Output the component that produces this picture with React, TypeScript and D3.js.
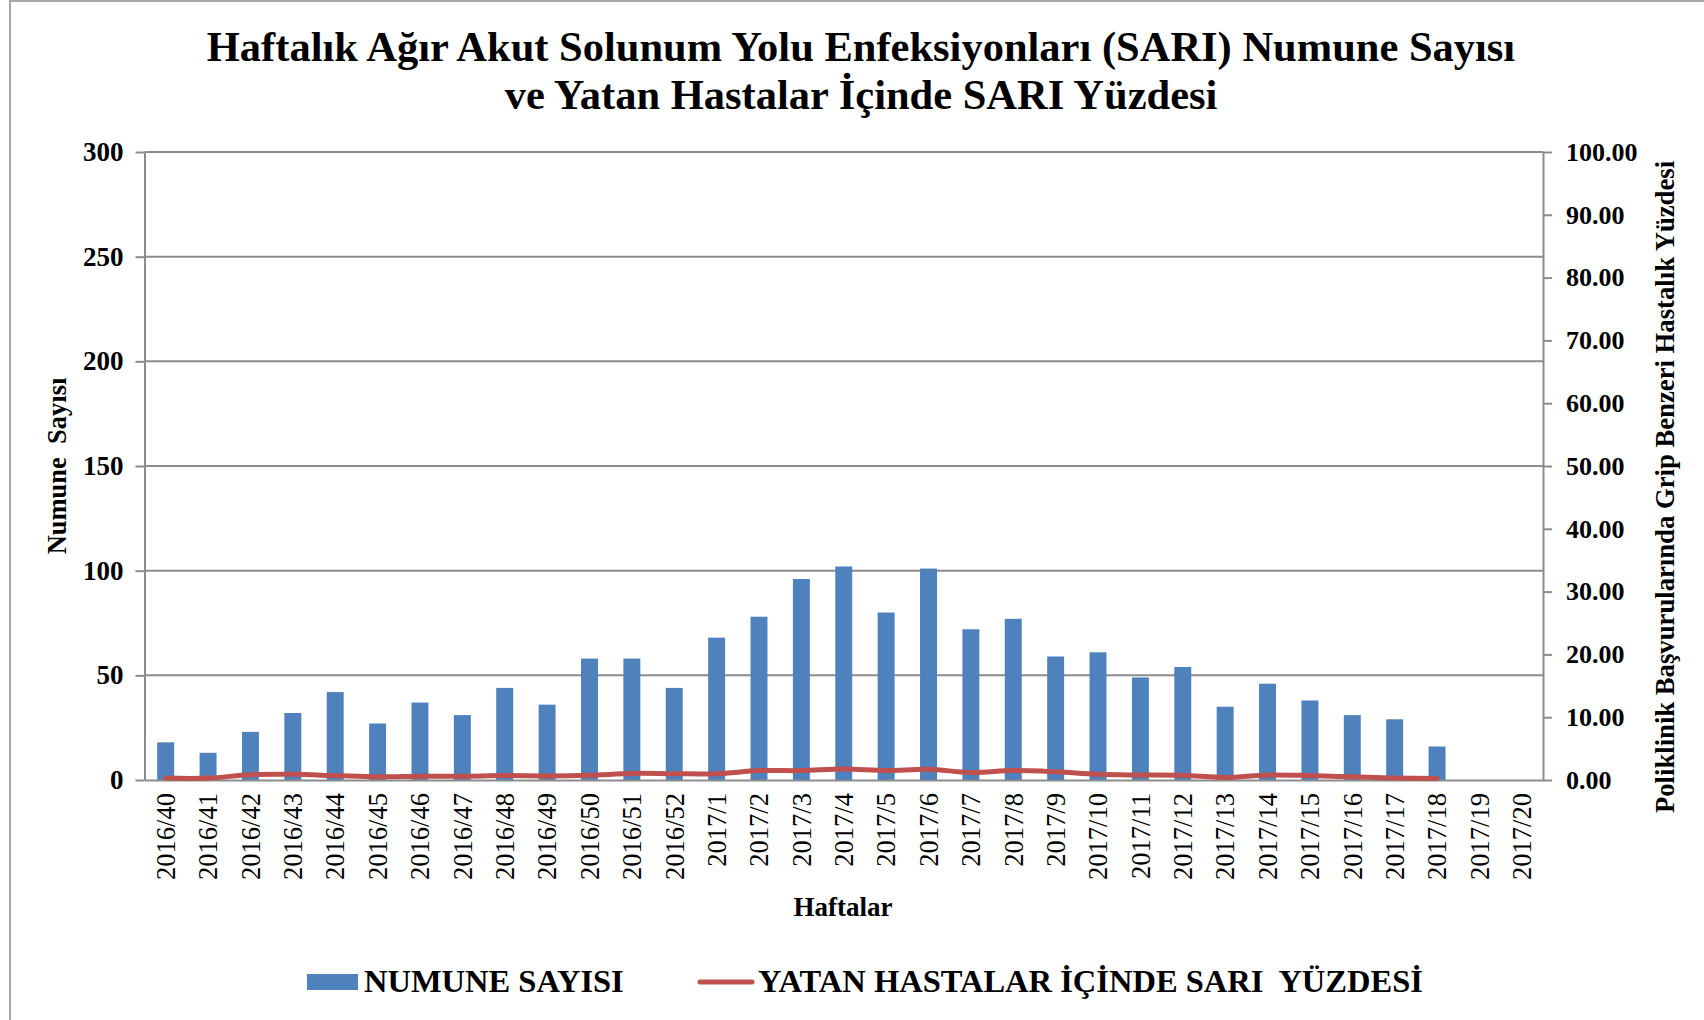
import React, { useEffect, useRef } from 'react';
import * as d3 from 'd3';

const weeks = [
  '2016/40', '2016/41', '2016/42', '2016/43', '2016/44', '2016/45', '2016/46',
  '2016/47', '2016/48', '2016/49', '2016/50', '2016/51', '2016/52',
  '2017/1', '2017/2', '2017/3', '2017/4', '2017/5', '2017/6', '2017/7',
  '2017/8', '2017/9', '2017/10', '2017/11', '2017/12', '2017/13', '2017/14',
  '2017/15', '2017/16', '2017/17', '2017/18', '2017/19', '2017/20',
];

// numune sayısı (bars), 2017/19 and 2017/20 have no data
const samples = [
  18, 13, 23, 32, 42, 27, 37, 31, 44, 36, 58, 58, 44,
  68, 78, 96, 102, 80, 101, 72, 77, 59, 61, 49, 54, 35, 46, 38, 31, 29, 16,
];

// yatan hastalar içinde SARI yüzdesi (line, right axis)
const sariPct = [
  0.3, 0.3, 0.85, 0.9, 0.7, 0.5, 0.6, 0.6, 0.7, 0.65, 0.75, 1.05, 1.0,
  1.0, 1.5, 1.5, 1.75, 1.5, 1.7, 1.2, 1.5, 1.3, 0.9, 0.8, 0.75, 0.4, 0.8, 0.7, 0.5, 0.3, 0.25,
];

const leftTicks = [0, 50, 100, 150, 200, 250, 300];
const rightTicks = [0, 10, 20, 30, 40, 50, 60, 70, 80, 90, 100];

const titleLines = [
  'Haftalık Ağır Akut Solunum Yolu Enfeksiyonları (SARI) Numune Sayısı',
  've Yatan Hastalar İçinde SARI Yüzdesi',
];

export default function App() {
  const ref = useRef<SVGSVGElement>(null);
  const width = 1704,
    height = 1020;
  const margin = { top: 152, right: 161, bottom: 240, left: 144.5 };
  const serif = '"Liberation Serif", "Times New Roman", serif';
  const barColor = '#4F81BD';
  const lineColor = '#C0504D';
  const axisColor = '#8C8C8C';

  useEffect(() => {
    const svg = d3.select(ref.current);
    svg.selectAll('*').remove();

    const x = d3
      .scaleBand<string>()
      .domain(weeks)
      .range([margin.left, width - margin.right])
      .padding(0);

    const y = d3
      .scaleLinear()
      .domain([0, 300])
      .range([height - margin.bottom, margin.top]);

    const y2 = d3
      .scaleLinear()
      .domain([0, 100])
      .range([height - margin.bottom, margin.top]);

    // outer frame
    svg
      .append('rect')
      .attr('x', 10)
      .attr('y', 1)
      .attr('width', width)
      .attr('height', height + 10)
      .attr('fill', 'white')
      .attr('stroke', '#A6A6A6')
      .attr('stroke-width', 2);

    // title
    svg
      .append('g')
      .selectAll('text')
      .data(titleLines)
      .join('text')
      .attr('x', 861)
      .attr('y', (d, i) => 61 + i * 48)
      .attr('text-anchor', 'middle')
      .attr('font-family', serif)
      .attr('font-weight', 'bold')
      .attr('font-size', 42.5)
      .text((d) => d);

    // gridlines
    svg
      .append('g')
      .selectAll('line')
      .data(leftTicks.slice(1))
      .join('line')
      .attr('x1', margin.left)
      .attr('x2', width - margin.right)
      .attr('y1', (d) => y(d))
      .attr('y2', (d) => y(d))
      .attr('stroke', axisColor)
      .attr('stroke-width', 2);

    // left axis
    const yAxis = svg
      .append('g')
      .attr('transform', `translate(${margin.left},0)`)
      .call(d3.axisLeft(y).tickValues(leftTicks).tickSize(9).tickPadding(12).tickSizeOuter(0));
    yAxis.select('.domain').attr('stroke', axisColor).attr('stroke-width', 2);
    yAxis.selectAll('.tick line').attr('stroke', axisColor).attr('stroke-width', 2);
    yAxis
      .selectAll('.tick text')
      .attr('font-family', serif)
      .attr('font-weight', 'bold')
      .attr('font-size', 27)
      .attr('fill', '#000');

    // right axis
    const yAxis2 = svg
      .append('g')
      .attr('transform', `translate(${width - margin.right},0)`)
      .call(
        d3
          .axisRight(y2)
          .tickValues(rightTicks)
          .tickFormat(d3.format('.2f'))
          .tickSize(9)
          .tickPadding(14)
          .tickSizeOuter(0)
      );
    yAxis2.select('.domain').attr('stroke', axisColor).attr('stroke-width', 2);
    yAxis2.selectAll('.tick line').attr('stroke', axisColor).attr('stroke-width', 2);
    yAxis2
      .selectAll('.tick text')
      .attr('font-family', serif)
      .attr('font-weight', 'bold')
      .attr('font-size', 26)
      .attr('fill', '#000');

    // bars
    const barW = x.bandwidth() * 0.4;
    svg
      .append('g')
      .selectAll('rect')
      .data(samples)
      .join('rect')
      .attr('x', (d, i) => (x(weeks[i]) as number) + (x.bandwidth() - barW) / 2)
      .attr('y', (d) => y(d))
      .attr('width', barW)
      .attr('height', (d) => y(0) - y(d))
      .attr('fill', barColor);

    // bottom axis
    const xAxis = svg
      .append('g')
      .attr('transform', `translate(0,${height - margin.bottom})`)
      .call(d3.axisBottom(x).tickSize(0).tickSizeOuter(0));
    xAxis.select('.domain').attr('stroke', axisColor).attr('stroke-width', 2);
    xAxis
      .selectAll('.tick text')
      .attr('font-family', serif)
      .attr('font-size', 26.5)
      .attr('fill', '#000')
      .attr('text-anchor', 'end')
      .attr('dy', '0.35em')
      .attr('x', -13)
      .attr('y', 0)
      .attr('transform', 'rotate(-90)');

    // percentage line
    const line = d3
      .line<number>()
      .x((d, i) => (x(weeks[i]) as number) + x.bandwidth() / 2)
      .y((d) => y2(d))
      .curve(d3.curveCatmullRom.alpha(0));
    svg
      .append('path')
      .datum(sariPct)
      .attr('fill', 'none')
      .attr('stroke', lineColor)
      .attr('stroke-width', 5)
      .attr('stroke-linecap', 'round')
      .attr('d', line);

    // axis titles
    svg
      .append('text')
      .attr('transform', `translate(66,${(margin.top + height - margin.bottom) / 2}) rotate(-90)`)
      .attr('text-anchor', 'middle')
      .attr('font-family', serif)
      .attr('font-weight', 'bold')
      .attr('font-size', 26.5)
      .style('white-space', 'pre')
      .text('Numune  Sayısı');

    svg
      .append('text')
      .attr('transform', `translate(1674,487) rotate(-90)`)
      .attr('text-anchor', 'middle')
      .attr('font-family', serif)
      .attr('font-weight', 'bold')
      .attr('font-size', 26.7)
      .text('Poliklinik Başvurularında Grip Benzeri Hastalık Yüzdesi');

    svg
      .append('text')
      .attr('x', 843)
      .attr('y', 916)
      .attr('text-anchor', 'middle')
      .attr('font-family', serif)
      .attr('font-weight', 'bold')
      .attr('font-size', 27)
      .text('Haftalar');

    // legend
    const legend = svg.append('g');
    legend
      .append('rect')
      .attr('x', 307)
      .attr('y', 974)
      .attr('width', 51)
      .attr('height', 16)
      .attr('fill', barColor);
    legend
      .append('text')
      .attr('x', 364)
      .attr('y', 992)
      .attr('font-family', serif)
      .attr('font-weight', 'bold')
      .attr('font-size', 32.5)
      .text('NUMUNE SAYISI');
    legend
      .append('line')
      .attr('x1', 700)
      .attr('x2', 752)
      .attr('y1', 982)
      .attr('y2', 982)
      .attr('stroke', lineColor)
      .attr('stroke-width', 5)
      .attr('stroke-linecap', 'round');
    legend
      .append('text')
      .attr('x', 758)
      .attr('y', 992)
      .attr('font-family', serif)
      .attr('font-weight', 'bold')
      .attr('font-size', 32.5)
      .style('white-space', 'pre')
      .text('YATAN HASTALAR İÇİNDE SARI  YÜZDESİ');
  }, []);

  return (
    <svg
      ref={ref}
      width={width}
      height={height}
      viewBox={`0 0 ${width} ${height}`}
      style={{ position: 'absolute', left: 0, top: 0, background: 'white' }}
    />
  );
}
